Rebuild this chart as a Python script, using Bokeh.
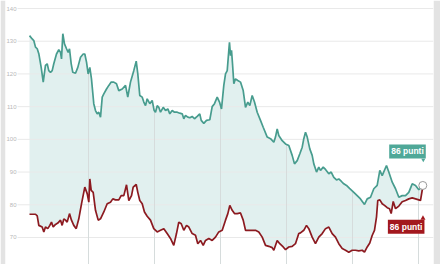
import numpy as np
from bokeh.plotting import figure
from bokeh.models import Range1d, Label
from bokeh.embed import file_html
from bokeh.resources import INLINE
from bokeh.core.properties import value

# ---- data (decimal years, index points) ----
green_t = [2016.106, 2016.147, 2016.171, 2016.197, 2016.223, 2016.247, 2016.283, 2016.314, 2016.348, 2016.374,
           2016.398, 2016.424, 2016.45, 2016.474, 2016.515, 2016.55, 2016.576, 2016.591, 2016.611, 2016.636,
           2016.667, 2016.692, 2016.712, 2016.738, 2016.762, 2016.803, 2016.838, 2016.879, 2016.92, 2016.944,
           2016.97, 2016.995, 2017.02, 2017.045, 2017.08, 2017.106, 2017.132, 2017.156, 2017.182, 2017.208,
           2017.232, 2017.273, 2017.308, 2017.344, 2017.383, 2017.424, 2017.459, 2017.511, 2017.561, 2017.595,
           2017.636, 2017.686, 2017.723, 2017.747, 2017.777, 2017.814, 2017.838, 2017.864, 2017.889, 2017.929,
           2017.965, 2017.995, 2018.015, 2018.041, 2018.065, 2018.091, 2018.132, 2018.167, 2018.202, 2018.232,
           2018.268, 2018.303, 2018.344, 2018.383, 2018.42, 2018.444, 2018.47, 2018.505, 2018.535, 2018.571,
           2018.606, 2018.647, 2018.686, 2018.708, 2018.747, 2018.788, 2018.838, 2018.874, 2018.909, 2018.95,
           2018.985, 2019.015, 2019.05, 2019.076, 2019.102, 2019.126, 2019.136, 2019.152, 2019.167, 2019.182,
           2019.202, 2019.227, 2019.262, 2019.303, 2019.344, 2019.379, 2019.414, 2019.444, 2019.48, 2019.515,
           2019.556, 2019.606, 2019.647, 2019.708, 2019.758, 2019.808, 2019.833, 2019.859, 2019.883, 2019.935,
           2019.985, 2020.035, 2020.086, 2020.121, 2020.162, 2020.202, 2020.238, 2020.262, 2020.288, 2020.314,
           2020.353, 2020.389, 2020.414, 2020.455, 2020.489, 2020.515, 2020.556, 2020.591, 2020.641, 2020.677,
           2020.717, 2020.758, 2020.792, 2020.829, 2020.868, 2020.909, 2020.955, 2021.02, 2021.071, 2021.121,
           2021.182, 2021.223, 2021.273, 2021.323, 2021.374, 2021.414, 2021.45, 2021.515, 2021.55, 2021.602,
           2021.652, 2021.702, 2021.753, 2021.803, 2021.853, 2021.905, 2021.955, 2022.005, 2022.065]
green_v = [131.7, 130.7, 130.2, 128.2, 127.7, 126.2, 122.0, 117.5, 122.6, 123.1,
           121.0, 120.5, 121.0, 123.1, 126.1, 127.4, 126.6, 124.6, 132.3, 129.2,
           127.7, 126.6, 127.7, 123.1, 120.5, 120.2, 122.0, 125.1, 126.1, 126.1,
           123.6, 120.0, 122.0, 118.5, 110.9, 108.8, 107.8, 108.3, 106.8, 112.9,
           113.9, 115.4, 116.5, 117.5, 117.5, 117.0, 114.9, 115.4, 116.5, 112.9,
           117.5, 121.0, 123.9, 120.0, 113.4, 112.9, 111.4, 110.3, 112.4, 110.9,
           111.9, 108.8, 108.3, 110.3, 109.8, 108.3, 109.8, 108.8, 109.3, 107.8,
           108.8, 108.3, 108.3, 108.0, 107.8, 106.3, 107.3, 106.8, 106.6, 107.0,
           106.3, 107.0, 107.8, 105.8, 104.9, 105.8, 106.0, 110.0, 110.9, 112.9,
           111.4, 109.3, 116.5, 120.0, 121.0, 127.2, 129.7, 125.6, 127.2, 123.1,
           117.0, 118.5, 118.0, 117.5, 114.9, 109.8, 111.4, 110.3, 113.4, 111.4,
           108.3, 105.8, 103.7, 100.7, 100.2, 99.1, 100.7, 103.2, 101.2, 99.6,
           98.6, 98.1, 95.1, 92.5, 93.5, 95.6, 97.6, 100.2, 102.2, 100.7,
           97.1, 95.1, 92.5, 90.0, 91.5, 90.5, 91.5, 90.8, 89.5, 90.0,
           88.4, 87.6, 87.9, 87.2, 86.4, 85.9, 85.0, 83.8, 82.8, 81.8,
           80.1, 81.8, 82.3, 84.9, 85.9, 90.5, 88.9, 92.0, 90.0, 86.9,
           84.9, 82.3, 82.8, 82.8, 83.8, 86.4, 85.9, 84.6, 85.9]

red_t = [2016.106, 2016.197, 2016.223, 2016.247, 2016.298, 2016.323, 2016.348, 2016.383, 2016.414, 2016.439,
         2016.465, 2016.5, 2016.535, 2016.576, 2016.601, 2016.626, 2016.652, 2016.677, 2016.712, 2016.742,
         2016.777, 2016.814, 2016.853, 2016.894, 2016.944, 2016.98, 2017.005, 2017.02, 2017.041, 2017.071,
         2017.106, 2017.147, 2017.182, 2017.232, 2017.283, 2017.333, 2017.368, 2017.409, 2017.459, 2017.495,
         2017.535, 2017.576, 2017.611, 2017.652, 2017.677, 2017.723, 2017.747, 2017.777, 2017.814, 2017.848,
         2017.889, 2017.939, 2017.989, 2018.041, 2018.091, 2018.141, 2018.192, 2018.242, 2018.292, 2018.333,
         2018.368, 2018.405, 2018.444, 2018.485, 2018.52, 2018.571, 2018.621, 2018.656, 2018.697, 2018.738,
         2018.773, 2018.823, 2018.874, 2018.924, 2018.974, 2019.026, 2019.076, 2019.111, 2019.141, 2019.177,
         2019.212, 2019.253, 2019.303, 2019.344, 2019.379, 2019.429, 2019.48, 2019.53, 2019.58, 2019.632,
         2019.682, 2019.732, 2019.783, 2019.808, 2019.859, 2019.898, 2019.95, 2019.985, 2020.035, 2020.086,
         2020.136, 2020.186, 2020.212, 2020.262, 2020.303, 2020.338, 2020.389, 2020.439, 2020.489, 2020.541,
         2020.591, 2020.641, 2020.692, 2020.742, 2020.792, 2020.844, 2020.894, 2020.944, 2020.995, 2021.045,
         2021.095, 2021.147, 2021.182, 2021.223, 2021.262, 2021.298, 2021.333, 2021.364, 2021.383, 2021.414,
         2021.45, 2021.485, 2021.526, 2021.561, 2021.586, 2021.617, 2021.652, 2021.702, 2021.753, 2021.803,
         2021.853, 2021.905, 2021.955, 2022.005, 2022.03, 2022.06]
red_v = [77.1, 77.1, 76.6, 73.7, 73.2, 71.7, 73.2, 72.7, 73.7, 74.7,
         73.2, 74.0, 74.4, 75.3, 73.7, 75.7, 75.3, 74.7, 77.3, 75.3,
         73.7, 72.7, 75.7, 80.3, 85.4, 83.4, 80.8, 87.9, 84.4, 83.8,
         78.3, 75.3, 75.7, 77.8, 80.3, 80.8, 81.8, 81.5, 81.5, 82.8,
         82.8, 86.1, 81.3, 82.8, 85.4, 86.2, 83.8, 81.3, 80.3, 77.8,
         76.5, 75.3, 72.7, 71.7, 72.2, 72.7, 71.2, 69.7, 67.6, 71.2,
         74.7, 74.2, 72.2, 73.7, 73.2, 71.2, 70.7, 68.1, 69.1, 67.6,
         69.1, 69.7, 69.1, 70.1, 71.7, 72.2, 75.3, 77.3, 79.8, 78.3,
         77.3, 77.3, 77.5, 75.3, 72.2, 72.2, 72.2, 72.2, 71.7, 70.1,
         67.6, 67.3, 66.9, 66.1, 69.1, 68.1, 67.1, 66.3, 67.1, 67.3,
         68.1, 71.2, 71.4, 72.2, 73.7, 72.7, 70.1, 68.1, 70.1, 71.2,
         72.7, 73.2, 71.2, 70.1, 68.1, 66.6, 66.1, 65.5, 66.1, 66.1,
         65.9, 66.1, 65.5, 67.1, 68.3, 70.6, 72.2, 76.3, 81.3, 81.5,
         80.3, 79.8, 79.1, 78.8, 77.3, 81.0, 78.8, 79.6, 80.9, 81.3,
         81.8, 82.1, 81.8, 81.5, 81.3, 84.9]

y_ticks = [70, 80, 90, 100, 110, 120, 130, 140]
year_lines = [2017, 2018, 2019, 2020, 2021, 2022]
green_label = "86 punti"
red_label = "86 punti"

# ---- styles ----
GREEN = "#479c8e"
GREEN_BOX = "#4fa898"
FILL = "#e1f0ef"
RED = "#8c1a20"
RED_BOX = "#a3181e"
GRID = "#e9e9e9"

x0, x1 = 2015.7424, 2022.2273
y0, y1 = 61.74, 142.45
FW, FH = 428, 264
p = figure(width=440, height=264, output_backend="svg", toolbar_location=None,
           x_range=Range1d(x0, x1), y_range=Range1d(y0, y1),
           min_border_left=5, min_border_right=7, min_border_top=0, min_border_bottom=0,
           border_fill_color="#e3e3e3", background_fill_color="white",
           outline_line_color=None)
p.axis.visible = False
p.grid.visible = False

span = x1 - x0
def px_dx(n):
    return n * span / FW
def px_dy(n):
    return n * (y1 - y0) / FH

gx0 = x0 + px_dx(12)

# fill between series
p.patch(green_t + red_t[::-1], green_v + red_v[::-1], fill_color=FILL, line_color=None)

# horizontal grid
p.segment(x0=[gx0] * len(y_ticks), y0=y_ticks, x1=[x1] * len(y_ticks), y1=y_ticks,
          line_color=GRID, line_width=1)
# vertical lines under green curve
tops = np.interp(year_lines, green_t, green_v)
p.segment(x0=year_lines, y0=[y0] * len(year_lines), x1=year_lines, y1=list(tops),
          line_color="#d6dcdc", line_width=1)

p.text(x=[x0 + px_dx(11)] * len(y_ticks), y=y_ticks, text=[str(v) for v in y_ticks],
       text_font=value("Liberation Sans"), text_font_size="6px", text_color="#b8b8b8",
       text_align="right", text_baseline="middle")

p.line(green_t, green_v, line_color=GREEN, line_width=1.7)
p.line(red_t, red_v, line_color=RED, line_width=1.7)

p.scatter([green_t[-1]], [green_v[-1]], size=8, fill_color="white", line_color="#9a9a9a", line_width=1)

gl = Label(x=green_t[-1], y=green_v[-1], text=green_label, x_offset=3, y_offset=27,
           text_align="right", text_baseline="bottom", text_font="Liberation Sans",
           text_font_style="bold", text_font_size="8.5px", text_color="white",
           background_fill_color=GREEN_BOX, padding=2)
p.add_layout(gl)
p.scatter([green_t[-1] + px_dx(0.5)], [green_v[-1] + px_dy(25.5)], marker="inverted_triangle", size=4,
          fill_color=GREEN_BOX, line_color=None)

rl = Label(x=red_t[-1], y=red_v[-1], text=red_label, x_offset=2, y_offset=-31,
           text_align="right", text_baseline="top", text_font="Liberation Sans",
           text_font_style="bold", text_font_size="8.5px", text_color="white",
           background_fill_color=RED_BOX, padding=2)
p.add_layout(rl)
p.scatter([red_t[-1] + px_dx(0.5)], [red_v[-1] - px_dy(29.5)], marker="triangle", size=5,
          fill_color=RED_BOX, line_color=None)

open("out.html", "w").write(file_html(p, INLINE))
